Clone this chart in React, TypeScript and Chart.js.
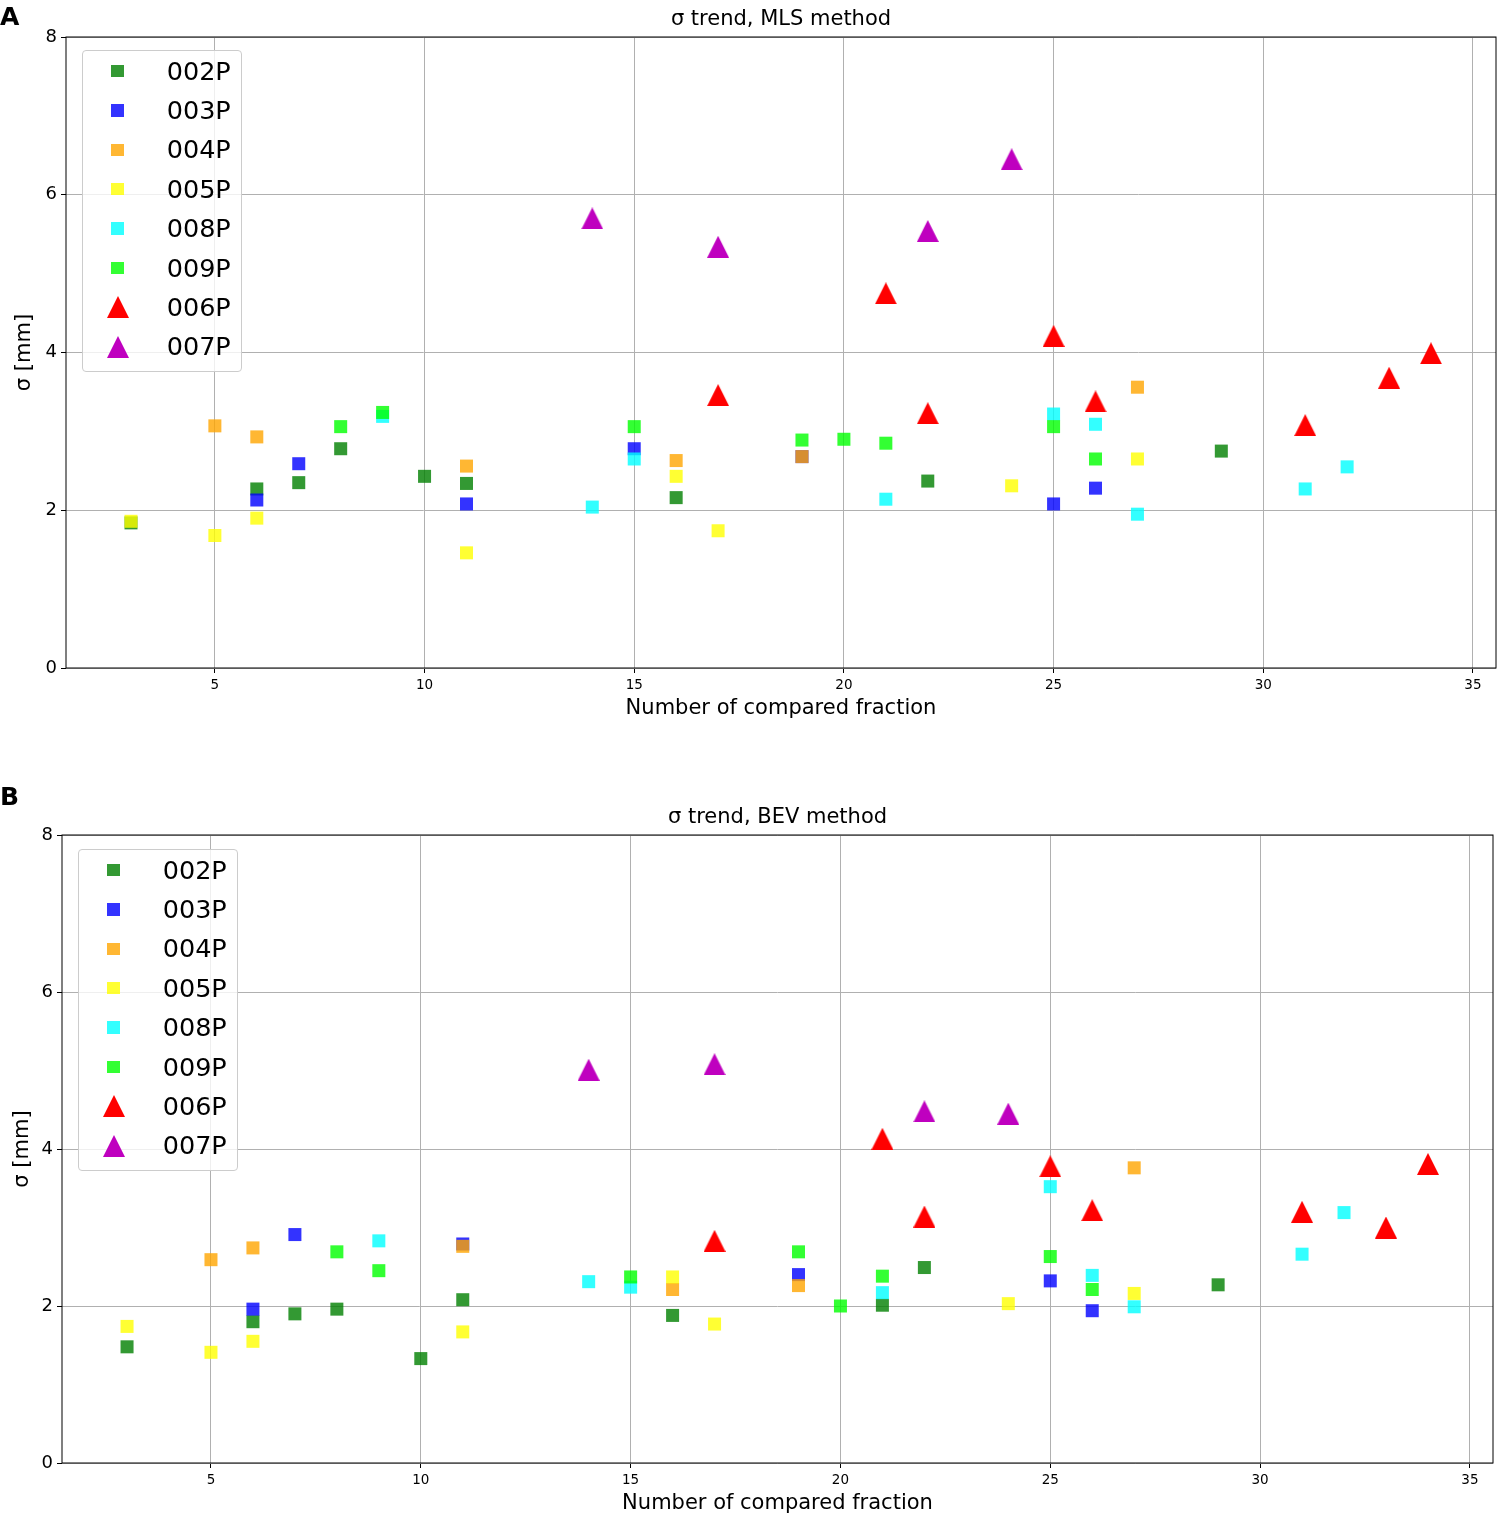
import React, { useEffect, useRef } from 'react';
import { Chart, registerables } from 'chart.js';

Chart.register(...registerables);
Chart.defaults.font.family = '"DejaVu Sans", sans-serif';

const seriesNames = ['002P', '003P', '004P', '005P', '008P', '009P', '006P', '007P'];
const seriesColors = [
  'rgba(0,128,0,0.8)',
  'rgba(0,0,255,0.8)',
  'rgba(255,165,0,0.8)',
  'rgba(255,255,0,0.8)',
  'rgba(0,255,255,0.8)',
  'rgba(0,255,0,0.8)',
  '#ff0000',
  '#bf00bf',
];
const seriesMarkers = ['square', 'square', 'square', 'square', 'square', 'square', 'triangle', 'triangle'];

const xTicks = [5, 10, 15, 20, 25, 30, 35];
const yTicks = [0, 2, 4, 6, 8];

// A: MLS method
const mlsX002 = [3, 6, 7, 8, 10, 11, 16, 22, 29];
const mlsY002 = [1.84, 2.27, 2.35, 2.78, 2.43, 2.34, 2.16, 2.37, 2.75];
const mlsX003 = [6, 7, 11, 15, 19, 25, 26];
const mlsY003 = [2.13, 2.59, 2.08, 2.78, 2.68, 2.08, 2.28];
const mlsX004 = [5, 6, 11, 16, 19, 27];
const mlsY004 = [3.07, 2.93, 2.56, 2.63, 2.68, 3.56];
const mlsX005 = [3, 5, 6, 11, 16, 17, 24, 27];
const mlsY005 = [1.86, 1.68, 1.9, 1.46, 2.43, 1.74, 2.31, 2.65];
const mlsX008 = [9, 14, 15, 21, 25, 26, 27, 31, 32];
const mlsY008 = [3.19, 2.04, 2.65, 2.14, 3.22, 3.09, 1.95, 2.27, 2.55];
const mlsX009 = [8, 9, 15, 19, 20, 21, 25, 26];
const mlsY009 = [3.06, 3.24, 3.06, 2.89, 2.9, 2.85, 3.06, 2.65];
const mlsX006 = [17, 21, 22, 25, 26, 31, 33, 34];
const mlsY006 = [3.46, 4.75, 3.23, 4.21, 3.38, 3.08, 3.68, 3.99];
const mlsX007 = [14, 17, 22, 24];
const mlsY007 = [5.7, 5.34, 5.54, 6.45];

// B: BEV method
const bevX002 = [3, 6, 7, 8, 10, 11, 16, 21, 22, 29];
const bevY002 = [1.48, 1.8, 1.9, 1.96, 1.33, 2.08, 1.88, 2.01, 2.49, 2.27];
const bevX003 = [6, 7, 11, 19, 25, 26];
const bevY003 = [1.96, 2.91, 2.79, 2.4, 2.32, 1.94];
const bevX004 = [5, 6, 11, 16, 19, 27];
const bevY004 = [2.59, 2.74, 2.76, 2.21, 2.26, 3.76];
const bevX005 = [3, 5, 6, 11, 16, 17, 24, 27];
const bevY005 = [1.74, 1.41, 1.55, 1.67, 2.37, 1.77, 2.03, 2.16];
const bevX008 = [9, 14, 15, 21, 25, 26, 27, 31, 32];
const bevY008 = [2.83, 2.31, 2.24, 2.17, 3.52, 2.39, 1.99, 2.66, 3.19];
const bevX009 = [8, 9, 15, 19, 20, 21, 25, 26];
const bevY009 = [2.69, 2.45, 2.37, 2.69, 2.0, 2.38, 2.63, 2.21];
const bevX006 = [17, 21, 22, 25, 26, 31, 33, 34];
const bevY006 = [2.83, 4.13, 3.14, 3.78, 3.22, 3.2, 3.0, 3.81];
const bevX007 = [14, 17, 22, 24];
const bevY007 = [5.01, 5.08, 4.48, 4.45];

const mlsSeries = [
  [mlsX002, mlsY002], [mlsX003, mlsY003], [mlsX004, mlsY004], [mlsX005, mlsY005],
  [mlsX008, mlsY008], [mlsX009, mlsY009], [mlsX006, mlsY006], [mlsX007, mlsY007],
];
const bevSeries = [
  [bevX002, bevY002], [bevX003, bevY003], [bevX004, bevY004], [bevX005, bevY005],
  [bevX008, bevY008], [bevX009, bevY009], [bevX006, bevY006], [bevX007, bevY007],
];

// triangle centred on its bounding box, like matplotlib's '^'
function makeTriangle(color: string, size: number) {
  const c = document.createElement('canvas');
  c.width = size;
  c.height = size;
  const ctx = c.getContext('2d');
  if (ctx) {
    ctx.fillStyle = color;
    ctx.beginPath();
    ctx.moveTo(size / 2, 0);
    ctx.lineTo(size, size);
    ctx.lineTo(0, size);
    ctx.closePath();
    ctx.fill();
  }
  return c;
}

const framePlugin = {
  id: 'frame',
  afterDatasetsDraw(chart: Chart) {
    const { ctx, chartArea } = chart;
    ctx.save();
    ctx.strokeStyle = '#000';
    ctx.lineWidth = 1;
    ctx.strokeRect(chartArea.left, chartArea.top, chartArea.right - chartArea.left, chartArea.bottom - chartArea.top);
    ctx.restore();
  },
};

interface PanelProps {
  top: number;
  height: number;
  yWidth: number;
  rightPad: number;
  yTitlePad: number;
  title: string;
  series: number[][][];
  legendLeft: number;
  legendTop: number;
  letter: string;
  letterTop: number;
}

const Panel: React.FC<PanelProps> = (p) => {
  const canvasRef = useRef<HTMLCanvasElement>(null);
  const chartRef = useRef<Chart | null>(null);

  useEffect(() => {
    if (!canvasRef.current) return;
    if (chartRef.current) chartRef.current.destroy();

    const n = seriesNames.length;
    const datasets = p.series.map(([xs, ys], i) => {
      const tri = seriesMarkers[i] === 'triangle';
      return {
        label: seriesNames[i],
        data: xs.map((x, j) => ({ x, y: ys[j] })),
        pointStyle: tri ? makeTriangle(seriesColors[i], 22) : 'rect',
        pointRadius: tri ? 11 : 9.2,
        pointHoverRadius: tri ? 11 : 9.2,
        backgroundColor: seriesColors[i],
        borderWidth: 0,
        order: n - i,
      };
    });

    chartRef.current = new Chart(canvasRef.current, {
      type: 'scatter',
      data: { datasets: datasets as any },
      options: {
        animation: false,
        responsive: false,
        maintainAspectRatio: false,
        layout: { autoPadding: false, padding: { left: 0, right: p.rightPad, top: 0, bottom: 0 } },
        plugins: {
          legend: { display: false },
          tooltip: { enabled: false },
          title: {
            display: true,
            text: p.title,
            fullSize: false,
            color: '#000',
            font: { size: 21, weight: 'normal' },
            padding: { top: 7, bottom: 4.8 },
          },
        },
        scales: {
          x: {
            type: 'linear',
            min: 1.45,
            max: 35.55,
            afterBuildTicks: (s: any) => {
              s.ticks = xTicks.map((v) => ({ value: v }));
            },
            afterFit: (s: any) => {
              s.height = 57;
              s.paddingLeft = 0;
              s.paddingRight = 0;
            },
            ticks: { color: '#000', font: { size: 13.5 }, padding: 4, maxRotation: 0, autoSkip: false },
            grid: { color: '#b0b0b0', lineWidth: 1, tickLength: 5, tickColor: '#000' },
            border: { display: false },
            title: {
              display: true,
              text: 'Number of compared fraction',
              color: '#000',
              font: { size: 21 },
              padding: { top: 4, bottom: 4 },
            },
          },
          y: {
            type: 'linear',
            min: 0,
            max: 8,
            afterBuildTicks: (s: any) => {
              s.ticks = yTicks.map((v) => ({ value: v }));
            },
            afterFit: (s: any) => {
              s.width = p.yWidth;
            },
            ticks: { color: '#000', font: { size: 18 }, padding: 4 },
            grid: { color: '#b0b0b0', lineWidth: 1, tickLength: 5, tickColor: '#000' },
            border: { display: false },
            title: {
              display: true,
              text: 'σ [mm]',
              color: '#000',
              font: { size: 21 },
              padding: { top: p.yTitlePad, bottom: 0 },
            },
          },
        },
      },
      plugins: [framePlugin],
    });

    return () => {
      if (chartRef.current) {
        chartRef.current.destroy();
        chartRef.current = null;
      }
    };
  }, [p]);

  const rowH = 39.4;
  return (
    <>
      <canvas
        ref={canvasRef}
        width={1497}
        height={p.height}
        style={{ position: 'absolute', left: 0, top: p.top, width: 1497, height: p.height }}
      />
      <div
        style={{
          position: 'absolute',
          left: p.legendLeft,
          top: p.legendTop,
          width: 160,
          height: 322,
          boxSizing: 'border-box',
          border: '1px solid #cccccc',
          borderRadius: 4,
          background: 'rgba(255,255,255,0.8)',
        }}
      >
        {seriesNames.map((name, i) => {
          const cy = 20 + i * rowH;
          const tri = seriesMarkers[i] === 'triangle';
          return (
            <React.Fragment key={name}>
              {tri ? (
                <div
                  style={{
                    position: 'absolute',
                    left: 34.7 - 11,
                    top: cy - 11,
                    width: 0,
                    height: 0,
                    borderLeft: '11px solid transparent',
                    borderRight: '11px solid transparent',
                    borderBottom: `22px solid ${seriesColors[i]}`,
                  }}
                />
              ) : (
                <div
                  style={{
                    position: 'absolute',
                    left: 34.7 - 6.25,
                    top: cy - 6.25,
                    width: 12.5,
                    height: 12.5,
                    background: seriesColors[i],
                  }}
                />
              )}
              <span
                style={{
                  position: 'absolute',
                  left: 83.7,
                  top: cy - 14.5,
                  fontSize: 25.5,
                  lineHeight: '29px',
                  color: '#000',
                  whiteSpace: 'nowrap',
                }}
              >
                {name}
              </span>
            </React.Fragment>
          );
        })}
      </div>
      <div
        style={{
          position: 'absolute',
          left: 0,
          top: p.letterTop,
          fontSize: 25,
          fontWeight: 'bold',
          lineHeight: '25px',
          color: '#000',
        }}
      >
        {p.letter}
      </div>
    </>
  );
};

const panelA: PanelProps = {
  top: 0,
  height: 725,
  yWidth: 66,
  rightPad: 1,
  yTitlePad: 11.5,
  title: 'σ trend, MLS method',
  series: mlsSeries,
  legendLeft: 82,
  legendTop: 50,
  letter: 'A',
  letterTop: 4,
};

const panelB: PanelProps = {
  top: 798,
  height: 722,
  yWidth: 62,
  rightPad: 4,
  yTitlePad: 9.5,
  title: 'σ trend, BEV method',
  series: bevSeries,
  legendLeft: 78,
  legendTop: 849,
  letter: 'B',
  letterTop: 784,
};

export default function App() {
  return (
    <div
      style={{
        position: 'absolute',
        left: 0,
        top: 0,
        width: 1497,
        height: 1520,
        overflow: 'hidden',
        background: '#fff',
        fontFamily: '"DejaVu Sans", sans-serif',
      }}
    >
      <Panel {...panelA} />
      <Panel {...panelB} />
    </div>
  );
}
